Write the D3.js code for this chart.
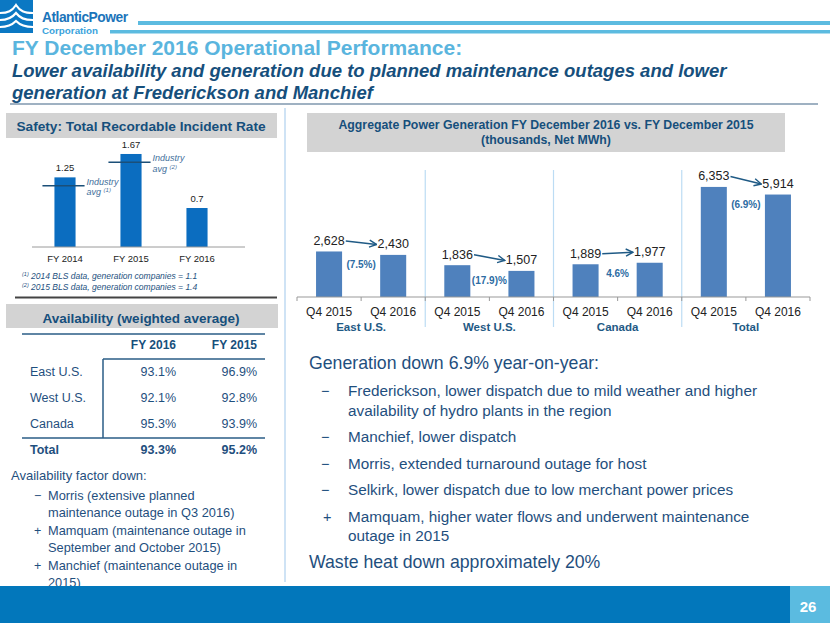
<!DOCTYPE html>
<html><head><meta charset="utf-8">
<script src="https://cdn.jsdelivr.net/npm/d3@7"></script>
<style>
body{margin:0;background:#fff}
svg{display:block}
text{font-family:"Liberation Sans",Arial,sans-serif}
</style>
</head><body>
<svg id="c" width="830" height="623"></svg>
<script>
// ---------- DATA ----------
const safetyYears = ["FY 2014", "FY 2015", "FY 2016"];
const safetyRates = [1.25, 1.67, 0.7];
const safetyLabels = ["1.25", "1.67", "0.7"];
const industryAvgYears = ["FY 2014", "FY 2015"];
const industryAvgLevels = [1.1, 1.52];
const industryAvgNotes = ["(1)", "(2)"];
const footnoteMarks = ["(1)", "(2)"];
const footnoteTexts = ["2014 BLS data, generation companies = 1.1", "2015 BLS data, generation companies = 1.4"];

const regions = ["East U.S.", "West U.S.", "Canada", "Total"];
const periods = ["Q4 2015", "Q4 2016"];
const gen2015 = [2628, 1836, 1889, 6353];
const gen2016 = [2430, 1507, 1977, 5914];
const genChange = ["(7.5%)", "(17.9)%", "4.6%", "(6.9%)"];

const availRegions = ["East U.S.", "West U.S.", "Canada", "Total"];
const availHeaders = ["FY 2016", "FY 2015"];
const availFY2016 = ["93.1%", "92.1%", "95.3%", "93.3%"];
const availFY2015 = ["96.9%", "92.8%", "93.9%", "95.2%"];

const availNoteTitle = "Availability factor down:";
const availNoteSigns = ["\u2212", "+", "+"];
const availNoteLines = [
  ["Morris (extensive planned", "maintenance outage in Q3 2016)"],
  ["Mamquam (maintenance outage in", "September and October 2015)"],
  ["Manchief (maintenance outage in", "2015)"]
];

const genNoteTitle = "Generation down 6.9% year-on-year:";
const genNoteSigns = ["\u2212", "\u2212", "\u2212", "\u2212", "+"];
const genNoteLines = [
  ["Frederickson, lower dispatch due to mild weather and higher", "availability of hydro plants in the region"],
  ["Manchief, lower dispatch"],
  ["Morris, extended turnaround outage for host"],
  ["Selkirk, lower dispatch due to low merchant power prices"],
  ["Mamquam, higher water flows and underwent maintenance", "outage in 2015"]
];
const genNoteFooter = "Waste heat down approximately 20%";

const slideTitle = "FY December 2016 Operational Performance:";
const slideSubtitle = ["Lower availability and generation due to planned maintenance outages and lower", "generation at Frederickson and Manchief"];
const pageNumber = "26";

// ---------- STYLE ----------
const DARK = "#164f7c";
const BODY = "#1f4f7e";
const svg = d3.select("#c");

// ---------- HEADER ----------
const logo = svg.append("g");
logo.append("rect").attr("x", 0).attr("y", 0).attr("width", 33).attr("height", 33).attr("fill", "#0b78c3");
[13, 20, 27].forEach((yy, i) => {
  logo.append("path")
    .attr("d", `M0,${yy} C8,${yy} 12,${yy - 2} 16,${yy - 8 + i} C20,${yy - 2} 24,${yy} 33,${yy}`)
    .attr("fill", "none").attr("stroke", "#fff").attr("stroke-width", 2.2);
});
svg.append("text").attr("x", 42).attr("y", 22).attr("font-size", 13.8).attr("font-weight", "bold")
  .attr("fill", "#1b74ba").attr("letter-spacing", -0.5).text("AtlanticPower");
svg.append("text").attr("x", 42).attr("y", 34).attr("font-size", 9.8).attr("font-weight", "bold")
  .attr("fill", "#3aa3dc").text("Corporation");
svg.append("rect").attr("x", 138).attr("y", 21).attr("width", 692).attr("height", 4).attr("fill", "#5cbbe0");
svg.append("rect").attr("x", 110).attr("y", 30).attr("width", 720).attr("height", 3.5).attr("fill", "#5cbbe0");

svg.append("text").attr("x", 12).attr("y", 55).attr("font-size", 21).attr("font-weight", "bold")
  .attr("fill", "#5ab5de").text(slideTitle);
slideSubtitle.forEach((t, i) => {
  svg.append("text").attr("x", 12).attr("y", 77 + i * 21.5).attr("font-size", 18.5).attr("font-weight", "bold")
    .attr("font-style", "italic").attr("fill", DARK).text(t);
});
svg.append("line").attr("x1", 10).attr("x2", 818).attr("y1", 104).attr("y2", 104)
  .attr("stroke", "#7f97ae").attr("stroke-width", 1.5);

// vertical divider
svg.append("line").attr("x1", 285).attr("x2", 285).attr("y1", 108).attr("y2", 582)
  .attr("stroke", "#cfe3f5").attr("stroke-width", 2);

// ---------- SAFETY CHART ----------
function grayHeader(x, y, w, h, lines, fs, cx, baselines) {
  svg.append("rect").attr("x", x).attr("y", y).attr("width", w).attr("height", h).attr("fill", "#d3d3d3");
  lines.forEach((t, i) => {
    svg.append("text").attr("x", cx).attr("y", baselines[i]).attr("text-anchor", "middle")
      .attr("font-size", fs).attr("font-weight", "bold").attr("fill", DARK).text(t);
  });
}
grayHeader(6, 113, 271, 25, ["Safety: Total Recordable Incident Rate"], 13.7, 141, [131]);

const sx = d3.scaleBand().domain(safetyYears).range([32, 230]).paddingInner(0.68).paddingOuter(0.34);
const sy = d3.scaleLinear().domain([0, 2]).range([247, 135.6]);
const sg = svg.append("g");
sg.selectAll("rect.sb").data(safetyYears).join("rect").attr("class", "sb")
  .attr("x", d => sx(d)).attr("width", sx.bandwidth())
  .attr("y", (d, i) => sy(safetyRates[i])).attr("height", (d, i) => sy(0) - sy(safetyRates[i]))
  .attr("fill", "#0b6dc0");
sg.append("line").attr("x1", 32).attr("x2", 245).attr("y1", sy(0)).attr("y2", sy(0))
  .attr("stroke", "#9a9a9a").attr("stroke-width", 1);
sg.selectAll("text.sv").data(safetyYears).join("text").attr("class", "sv")
  .attr("x", d => sx(d) + sx.bandwidth() / 2).attr("y", (d, i) => sy(safetyRates[i]) - 6)
  .attr("text-anchor", "middle").attr("font-size", 9.5).attr("fill", "#222").text((d, i) => safetyLabels[i]);
sg.selectAll("text.sl").data(safetyYears).join("text").attr("class", "sl")
  .attr("x", d => sx(d) + sx.bandwidth() / 2).attr("y", 262)
  .attr("text-anchor", "middle").attr("font-size", 9.5).attr("fill", "#222").text(d => d);
industryAvgYears.forEach((yr, i) => {
  const ly = sy(industryAvgLevels[i]);
  sg.append("line").attr("x1", sx(yr) - 12).attr("x2", sx(yr) + sx.bandwidth() + 9)
    .attr("y1", ly).attr("y2", ly).attr("stroke", "#1b4f78").attr("stroke-width", 1.5);
  const tx = sx(yr) + sx.bandwidth() + 11;
  sg.append("text").attr("x", tx).attr("y", ly - 1).attr("font-size", 9).attr("font-style", "italic")
    .attr("fill", "#3f6f9c").text("Industry");
  const t2 = sg.append("text").attr("x", tx).attr("y", ly + 9.5).attr("font-size", 9).attr("font-style", "italic")
    .attr("fill", "#3f6f9c");
  t2.append("tspan").text("avg ");
  t2.append("tspan").attr("font-size", 6).attr("dy", -3).text(industryAvgNotes[i]);
});
footnoteMarks.forEach((m, i) => {
  const t = sg.append("text").attr("x", 22).attr("y", 279 + i * 11).attr("font-size", 8.5)
    .attr("font-style", "italic").attr("fill", "#24507e");
  t.append("tspan").attr("font-size", 5.5).attr("dy", -3).text(m);
  t.append("tspan").attr("dy", 3).text(" " + footnoteTexts[i]);
});
svg.append("line").attr("x1", 15).attr("x2", 277).attr("y1", 297.5).attr("y2", 297.5)
  .attr("stroke", "#444").attr("stroke-width", 2);

// ---------- AVAILABILITY TABLE ----------
grayHeader(6, 304, 272, 24, ["Availability (weighted average)"], 13.5, 141, [323]);
const tbl = svg.append("g");
const rowY = d3.scalePoint().domain(availRegions).range([376, 454]);
const colX = [176, 257];
tbl.append("line").attr("x1", 22).attr("x2", 265).attr("y1", 334).attr("y2", 334).attr("stroke", "#2a5d86").attr("stroke-width", 1.5);
tbl.append("line").attr("x1", 103).attr("x2", 265).attr("y1", 359).attr("y2", 359).attr("stroke", "#2a5d86").attr("stroke-width", 1.5);
tbl.append("line").attr("x1", 103).attr("x2", 103).attr("y1", 359).attr("y2", 438).attr("stroke", "#2a5d86").attr("stroke-width", 1.5);
tbl.append("line").attr("x1", 22).attr("x2", 265).attr("y1", 438).attr("y2", 438).attr("stroke", "#2a5d86").attr("stroke-width", 1.5);
availHeaders.forEach((h, j) => {
  tbl.append("text").attr("x", colX[j]).attr("y", 349).attr("text-anchor", "end")
    .attr("font-size", 12).attr("font-weight", "bold").attr("fill", DARK).text(h);
});
availRegions.forEach((r, i) => {
  const y = rowY(r);
  const bold = i === 3 ? "bold" : "normal";
  tbl.append("text").attr("x", 30).attr("y", y).attr("font-size", 12.5).attr("font-weight", bold).attr("fill", BODY).text(r);
  tbl.append("text").attr("x", colX[0]).attr("y", y).attr("text-anchor", "end").attr("font-size", 12.5).attr("font-weight", bold).attr("fill", BODY).text(availFY2016[i]);
  tbl.append("text").attr("x", colX[1]).attr("y", y).attr("text-anchor", "end").attr("font-size", 12.5).attr("font-weight", bold).attr("fill", BODY).text(availFY2015[i]);
});

// availability notes
svg.append("text").attr("x", 11).attr("y", 480).attr("font-size", 13).attr("fill", BODY).text(availNoteTitle);
let ay = 500;
availNoteLines.forEach((lines, i) => {
  svg.append("text").attr("x", 34).attr("y", ay).attr("font-size", 12.5).attr("fill", BODY).text(availNoteSigns[i]);
  lines.forEach((l, k) => {
    svg.append("text").attr("x", 48).attr("y", ay + k * 17).attr("font-size", 12.8).attr("fill", BODY).text(l);
  });
  ay += lines.length * 17 + 1;
});

// ---------- GENERATION CHART ----------
grayHeader(307, 113, 478, 39, ["Aggregate Power Generation FY December 2016 vs. FY December 2015", "(thousands, Net MWh)"], 12.3, 546, [129, 144]);

const cats = [];
regions.forEach(r => periods.forEach(p => cats.push(r + "|" + p)));
const gx = d3.scaleBand().domain(cats).range([297, 810]).paddingInner(0.594).paddingOuter(0.297);
const gy = d3.scaleLinear().domain([0, 7330]).range([297, 170]);
const step = gx.step();
const cx = c => gx(c) + gx.bandwidth() / 2;
const gg = svg.append("g");
const bars = [];
regions.forEach((r, i) => {
  bars.push({ cat: r + "|" + periods[0], v: gen2015[i] });
  bars.push({ cat: r + "|" + periods[1], v: gen2016[i] });
});
// group separators
regions.slice(1).forEach(r => {
  const x = gx(r + "|" + periods[0]) - gx.paddingInner() * step / 2;
  gg.append("line").attr("x1", x).attr("x2", x).attr("y1", 170).attr("y2", 327)
    .attr("stroke", "#bcdcf4").attr("stroke-width", 1.2);
});
gg.selectAll("rect.gb").data(bars).join("rect").attr("class", "gb")
  .attr("x", d => gx(d.cat)).attr("width", gx.bandwidth())
  .attr("y", d => gy(d.v)).attr("height", d => gy(0) - gy(d.v)).attr("fill", "#4f81bd");
// axis
const axis = gg.append("g").attr("transform", `translate(0,${gy(0)})`)
  .call(d3.axisBottom(gx).tickSize(0).tickFormat(d => d.split("|")[1]));
axis.select(".domain").attr("stroke", "#999").attr("d", "M297,0H810");
axis.selectAll(".tick text").attr("font-family", "Lato, 'Open Sans', sans-serif").attr("font-size", 12)
  .attr("fill", "#222").attr("dy", 0).attr("y", 19);
cats.concat(["end"]).forEach((c, i) => {
  const x = 297 + i * step;
  gg.append("line").attr("x1", x).attr("x2", x).attr("y1", gy(0)).attr("y2", gy(0) + 4).attr("stroke", "#999");
});
// value labels
const valLabels = gg.selectAll("text.gv").data(bars).join("text").attr("class", "gv")
  .attr("x", d => cx(d.cat)).attr("y", d => gy(d.v) - 6.5).attr("text-anchor", "middle")
  .attr("font-family", "Lato, 'Open Sans', sans-serif").attr("font-size", 12.5).attr("fill", "#222")
  .text(d => d3.format(",")(d.v));
// arrows
const defs = svg.append("defs");
defs.append("marker").attr("id", "ah").attr("viewBox", "0 0 10 10").attr("refX", 9).attr("refY", 5)
  .attr("markerWidth", 9).attr("markerHeight", 9).attr("markerUnits", "userSpaceOnUse").attr("orient", "auto")
  .append("path").attr("d", "M1,1 L9,5 L1,9").attr("fill", "none").attr("stroke", "#1f5a85").attr("stroke-width", 1.6);
const nodes = valLabels.nodes();
regions.forEach((r, i) => {
  const a = nodes[i * 2], b = nodes[i * 2 + 1];
  const ba = a.getBBox(), bb = b.getBBox();
  const x1 = ba.x + ba.width + 1, y1 = ba.y + ba.height / 2;
  const x2 = bb.x - 1, y2 = bb.y + bb.height / 2;
  gg.append("line").attr("x1", x1).attr("y1", y1).attr("x2", x2).attr("y2", y2)
    .attr("stroke", "#1f5a85").attr("stroke-width", 1.5).attr("marker-end", "url(#ah)");
  const gcx = (cx(r + "|" + periods[0]) + cx(r + "|" + periods[1])) / 2;
  const low = Math.min(gen2015[i], gen2016[i]);
  gg.append("text").attr("x", gcx).attr("y", gy(low) + 13).attr("text-anchor", "middle")
    .attr("font-size", 10).attr("font-weight", "bold").attr("fill", "#2d6ca3").text(genChange[i]);
  gg.append("text").attr("x", gcx).attr("y", 331).attr("text-anchor", "middle")
    .attr("font-size", 11.5).attr("font-weight", "bold").attr("fill", "#1f5a85").text(r);
});

// ---------- GENERATION NOTES ----------
svg.append("text").attr("x", 309).attr("y", 369).attr("font-size", 17.7).attr("fill", BODY).text(genNoteTitle);
let gyy = 396;
genNoteLines.forEach((lines, i) => {
  svg.append("text").attr("x", genNoteSigns[i] === "+" ? 323 : 321).attr("y", gyy).attr("font-size", 14.5).attr("fill", BODY).text(genNoteSigns[i]);
  lines.forEach((l, k) => {
    svg.append("text").attr("x", 348).attr("y", gyy + k * 19.5).attr("font-size", 15.3).attr("fill", BODY).text(l);
  });
  gyy += (lines.length - 1) * 19.5 + 26.5;
});
svg.append("text").attr("x", 309).attr("y", 568).attr("font-size", 17.7).attr("fill", BODY).text(genNoteFooter);

// ---------- FOOTER ----------
svg.append("rect").attr("x", 0).attr("y", 586).attr("width", 830).attr("height", 37).attr("fill", "#0277bb");
svg.append("rect").attr("x", 790).attr("y", 586).attr("width", 40).attr("height", 37).attr("fill", "#5bbbe0");
svg.append("text").attr("x", 808).attr("y", 612).attr("text-anchor", "middle").attr("font-size", 15)
  .attr("font-weight", "bold").attr("fill", "#fff").text(pageNumber);
</script>
</body></html>
